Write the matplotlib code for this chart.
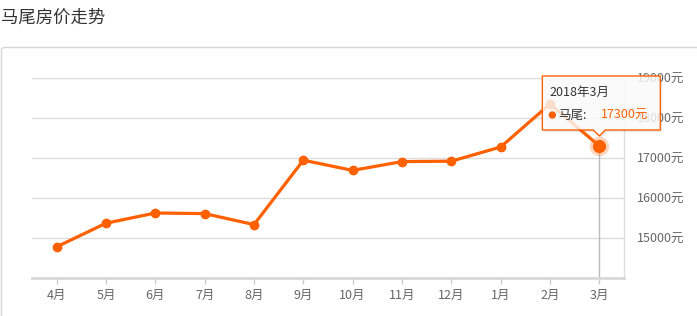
import numpy as np
import matplotlib.pyplot as plt
from matplotlib.patches import FancyBboxPatch, Polygon, Ellipse

plt.rcParams['font.family'] = ['Noto Sans CJK SC', 'DejaVu Sans']

# data
months = ['4月', '5月', '6月', '7月', '8月', '9月', '10月', '11月', '12月', '1月', '2月', '3月']
prices = [14780, 15370, 15625, 15610, 15335, 16945, 16690, 16910, 16920, 17275, 18350, 17300]
yticks = [15000, 16000, 17000, 18000, 19000]
title = '马尾房价走势'
tip_date = '2018年3月'
tip_name = '马尾'

orange = '#ff6000'
grid_c = '#dddddd'
label_c = '#666666'

W, H = 697, 316
fig = plt.figure(figsize=(W / 100, H / 100), dpi=100)


def fx(x):
    return x / W


def fy(y):
    return 1 - y / H


# outer card border
card = FancyBboxPatch((fx(1.5), fy(330)), fx(720), fy(47.5) - fy(330),
                      boxstyle='round,pad=0,rounding_size=0.006',
                      transform=fig.transFigure, facecolor='white',
                      edgecolor='#d6d6d6', linewidth=1, zorder=-5)
fig.patches.append(card)
fig.text(fx(1), fy(18), title, fontsize=12.5, color='#333333', va='center', ha='left')

ax = fig.add_axes([fx(32), fy(278), fx(624) - fx(32), fy(78) - fy(278)])
ax.set_facecolor('none')
x = np.arange(len(months))
ax.set_xlim(-0.5, len(months) - 0.5)
ax.set_ylim(14000, 19000)

for v in yticks:
    ax.axhline(v, color=grid_c, lw=1, zorder=1)

for s in ['top', 'left']:
    ax.spines[s].set_visible(False)
ax.spines['bottom'].set_color('#d8d8d8')
ax.spines['bottom'].set_linewidth(2)
ax.spines['right'].set_color(grid_c)
ax.spines['right'].set_linewidth(1)

ax.set_xticks(x)
ax.set_xticklabels(months)
ax.tick_params(axis='x', length=4, width=1, color='#cccccc', labelcolor=label_c,
               labelsize=9, pad=4)
ax.yaxis.tick_right()
ax.set_yticks(yticks)
ax.set_yticklabels([f'{v}元' for v in yticks])
ax.tick_params(axis='y', length=0, labelcolor=label_c, labelsize=9, pad=9)

ax.plot(x, prices, color=orange, lw=2.3, marker='o', markersize=6,
        zorder=3, solid_joinstyle='round')

# hovered point: pointer line + halo
last = len(months) - 1
ax.plot([x[last], x[last]], [14000, prices[last]], color='#bbbbbb', lw=1, zorder=2)
ax.plot(x[last], prices[last], 'o', color=orange, markersize=14, alpha=0.25,
        markeredgewidth=0, zorder=4)
ax.plot(x[last], prices[last], 'o', color=orange, markersize=8.5, zorder=5)

# tooltip positioned relative to the hovered point
fig.canvas.draw()
px, py = ax.transData.transform((x[last], prices[last]))
py = H - py  # to top-down pixels
left, right, top, bot = px - 57, px + 61, py - 70, py - 16
tip = py - 10
outline = [(left, bot), (px - 6, bot), (px, tip), (px + 6, bot), (right, bot),
           (right, top), (left, top)]
shadow = Polygon([(fx(a + 2), fy(b + 2)) for a, b in outline], closed=True,
                 transform=fig.transFigure, facecolor='#000000', alpha=0.08,
                 edgecolor='none', zorder=8)
box = Polygon([(fx(a), fy(b)) for a, b in outline], closed=True,
              transform=fig.transFigure, facecolor=(1, 1, 1, 0.8),
              edgecolor=orange, linewidth=1, zorder=9)
fig.patches.extend([shadow, box])
fig.text(fx(left + 7), fy(top + 16), tip_date, fontsize=9, color='#333333',
         va='center', ha='left', zorder=10)
fig.patches.append(Ellipse((fx(left + 10), fy(top + 39)), 6 / W, 6 / H,
                           transform=fig.transFigure, color=orange, zorder=10))
fig.text(fx(left + 16), fy(top + 39), f'{tip_name}:', fontsize=9, color='#333333',
         va='center', ha='left', zorder=10)
fig.text(fx(left + 59), fy(top + 39), f'{prices[last]}元', fontsize=9, color=orange,
         va='center', ha='left', zorder=10)

fig.savefig('out.png', dpi=100)
